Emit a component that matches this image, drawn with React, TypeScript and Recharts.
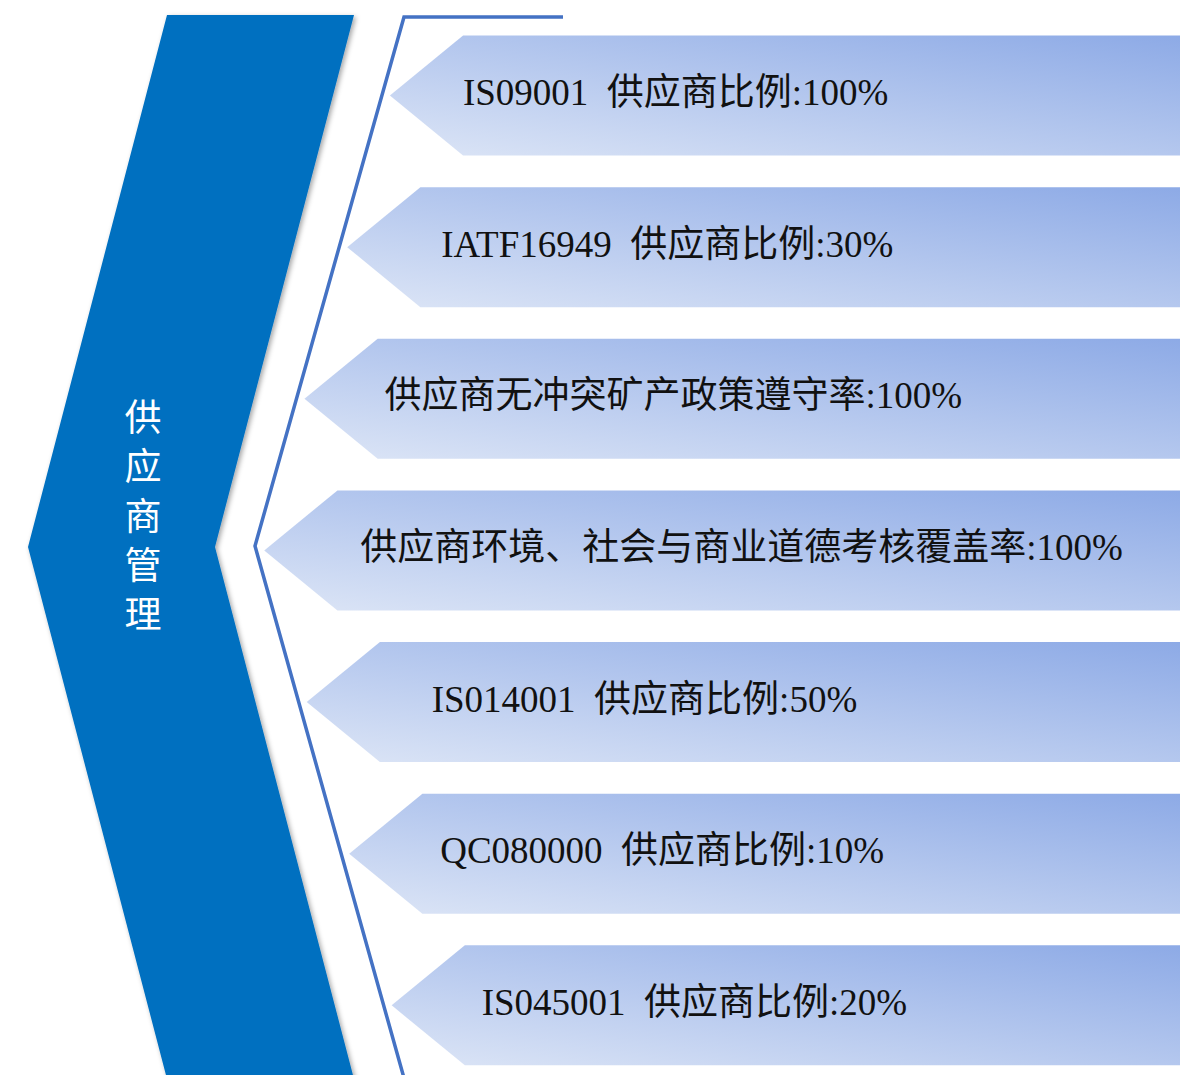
import { BarChart, Bar, XAxis, YAxis, Customized } from 'recharts';

// 各行的名称与比例
const names = [
    'IS09001\u00A0\u00A0供应商比例',
    'IATF16949\u00A0\u00A0供应商比例',
    '供应商无冲突矿产政策遵守率',
    '供应商环境、社会与商业道德考核覆盖率',
    'IS014001\u00A0\u00A0供应商比例',
    'QC080000\u00A0\u00A0供应商比例',
    'IS045001\u00A0\u00A0供应商比例',
];
const values = [100, 30, 100, 100, 50, 10, 20];
const title = ['供', '应', '商', '管', '理'];

const data = names.map((name, i) => ({ name, value: values[i] }));

const W = 1180;
const H = 1081;
const FONT = "'Liberation Serif', 'Noto Sans CJK SC', serif";

// 折线（蓝色细线）的几何
const LINE_TOP = { x: 404, y: 17 };
const LINE_MID = { x: 255, y: 546 };
const LINE_BOT = { x: 404, y: 1078 };

// 文字相对箭头尖端的缩进
const LABEL_INDENT = [73, 94, 80, 96, 125, 91, 90];

function lineX(y: number) {
    if (y <= LINE_MID.y) {
        return LINE_TOP.x + (y - LINE_TOP.y) * (LINE_MID.x - LINE_TOP.x) / (LINE_MID.y - LINE_TOP.y);
    }
    return LINE_MID.x + (y - LINE_MID.y) * (LINE_BOT.x - LINE_MID.x) / (LINE_BOT.y - LINE_MID.y);
}

function tipX(cy: number) {
    return lineX(cy) + 8;
}

function ArrowBackground(props: any) {
    const { y, height, x, width } = props;
    const cy = y + height / 2;
    const tx = tipX(cy);
    const depth = height * 0.61;
    const right = x + width;
    const pts = `${tx},${cy} ${tx + depth},${y} ${right},${y} ${right},${y + height} ${tx + depth},${y + height}`;
    return <polygon points={pts} fill="url(#arrowGrad)" stroke="none" />;
}

function LabelShape(props: any) {
    const { y, height, payload, index } = props;
    const cy = y + height / 2;
    const tx = tipX(cy) + LABEL_INDENT[index];
    return (
        <text
            x={tx}
            y={cy - 3}
            dominantBaseline="central"
            fontFamily={FONT}
            fontSize={37}
            fill="#111"
            style={{ whiteSpace: 'pre' }}
        >
            {`${payload.name}:${payload.value}%`}
        </text>
    );
}

function Decor() {
    return (
        <g>
            <defs>
                <linearGradient id="arrowGrad" x1="0" y1="1" x2="1" y2="0">
                    <stop offset="0%" stopColor="#DCE5F6" />
                    <stop offset="100%" stopColor="#8DAAE6" />
                </linearGradient>
                <filter id="chevShadow" x="-20%" y="-5%" width="140%" height="110%">
                    <feDropShadow dx="2" dy="2" stdDeviation="2.5" floodColor="#000" floodOpacity="0.35" />
                </filter>
            </defs>
            {/* 左侧蓝色箭头 */}
            <polygon
                points="167,15 354,15 215,547 354,1079 167,1079 28,547"
                fill="#0070C0"
                filter="url(#chevShadow)"
            />
            <text
                x={143}
                fontFamily="'Noto Sans CJK SC', sans-serif"
                fontSize={37}
                fill="#fff"
                textAnchor="middle"
                dominantBaseline="central"
            >
                {title.map((c, i) => (
                    <tspan key={c} x={143} y={415 + i * 49.3}>{c}</tspan>
                ))}
            </text>
            {/* 蓝色折线 */}
            <polyline
                points={`563,${LINE_TOP.y} ${LINE_TOP.x},${LINE_TOP.y} ${LINE_MID.x},${LINE_MID.y} ${LINE_BOT.x},${LINE_BOT.y}`}
                fill="none"
                stroke="#4472C4"
                strokeWidth={3.5}
            />
        </g>
    );
}

export default function App() {
    return (
        <div style={{ position: 'absolute', left: 0, top: 0, width: W, height: 1075, overflow: 'hidden', background: '#fff' }}>
            <style>{`body{margin:0}`}</style>
            <BarChart
                width={W}
                height={H}
                data={data}
                layout="vertical"
                margin={{ top: 19.5, right: 0, bottom: 0, left: 0 }}
            >
                <Customized component={<Decor />} />
                <XAxis type="number" domain={[0, 100]} hide />
                <YAxis type="category" dataKey="name" hide />
                <Bar
                    dataKey="value"
                    barSize={120}
                    isAnimationActive={false}
                    background={(p: any) => <ArrowBackground key={`bg-${p.index}`} {...p} />}
                    shape={(p: any) => <LabelShape key={`lb-${p.index}`} {...p} />}
                />
            </BarChart>
        </div>
    );
}
